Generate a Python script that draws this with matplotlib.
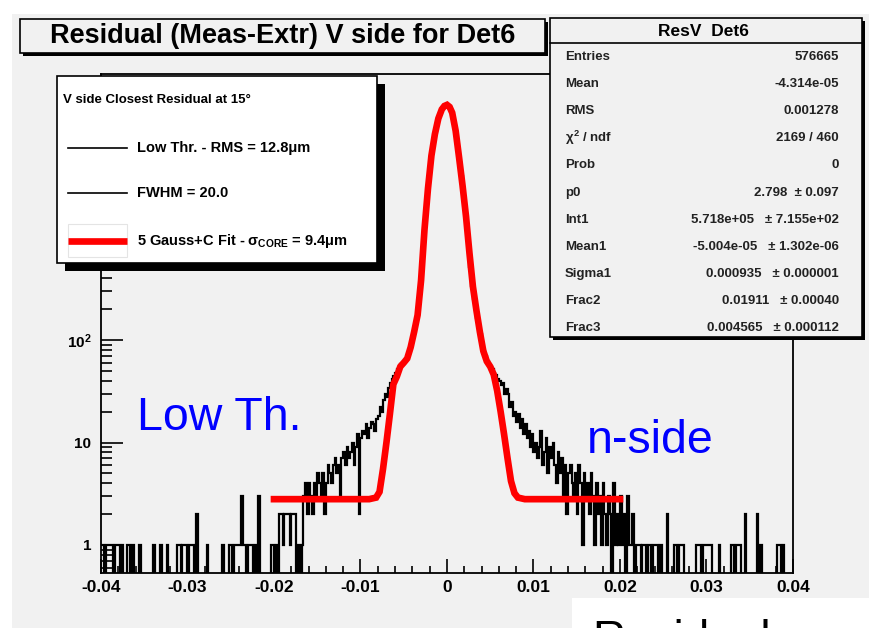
import matplotlib
matplotlib.use("Agg")
import matplotlib.pyplot as plt
from matplotlib.patches import Rectangle
from matplotlib.lines import Line2D
import numpy as np

plt.rcParams['font.family'] = ['Liberation Sans', 'DejaVu Sans']
plt.rcParams['mathtext.fontset'] = 'custom'
plt.rcParams['mathtext.rm'] = 'Liberation Sans:bold'
plt.rcParams['mathtext.bf'] = 'Liberation Sans:bold'
plt.rcParams['mathtext.it'] = 'Liberation Sans:bold'

# residual histogram, 400 bins from -0.04 to 0.04
x_min, x_max, n_bins = -0.04, 0.04, 400
counts = [
    1, 1, 0, 1, 1, 1, 1, 0, 1, 1, 1, 0, 1, 0, 0, 1, 1, 0, 1, 0,
    0, 0, 1, 0, 0, 0, 0, 0, 0, 0, 1, 0, 0, 0, 1, 0, 0, 0, 1, 0,
    0, 0, 0, 0, 1, 1, 0, 1, 1, 1, 0, 1, 1, 1, 0, 2, 0, 0, 0, 0,
    0, 1, 0, 0, 0, 0, 0, 0, 0, 0, 1, 0, 0, 0, 1, 1, 0, 1, 1, 1,
    1, 3, 1, 1, 0, 1, 1, 1, 0, 1, 0, 3, 0, 0, 0, 0, 0, 0, 1, 1,
    0, 1, 0, 2, 2, 1, 2, 2, 2, 1, 2, 2, 2, 0, 1, 0, 1, 3, 4, 2,
    4, 3, 2, 4, 3, 5, 4, 3, 5, 2, 4, 6, 5, 4, 6, 7, 5, 6, 3, 7,
    8, 6, 9, 7, 8, 10, 6, 9, 12, 2, 11, 13, 12, 15, 11, 14, 16, 15, 13, 17,
    18, 22, 20, 26, 30, 28, 34, 38, 42, 45, 48, 52, 55, 58, 60, 63, 66, 72, 80, 88,
    110, 130, 160, 220, 320, 520, 900, 1500, 2500, 3600,
    5000, 6600, 9000, 11000, 13500, 15500, 17000, 18300, 19200, 19600,
    19500, 18800, 17300, 15000, 12200, 9800, 7500, 5500, 4000, 2800,
    1900, 1250, 850, 520, 340, 250, 200, 165, 135, 115,
    90, 78, 70, 62, 58, 55, 52, 48, 46, 42, 40, 36, 38, 30, 33, 30, 22, 25, 18, 20,
    16, 19, 14, 17, 12, 15, 11, 13, 9, 12, 8, 10, 7, 9, 13, 6, 8, 11, 5, 9,
    7, 10, 6, 4, 8, 5, 7, 3, 6, 2, 5, 6, 4, 3, 5, 2, 6, 4, 1, 5,
    3, 4, 2, 5, 3, 1, 4, 2, 3, 1, 4, 2, 1, 3, 2, 0, 4, 1, 2, 1,
    3, 1, 2, 0, 3, 1, 1, 2, 0, 1, 1, 1, 0, 1, 1, 0, 1, 1, 0, 1,
    1, 1, 0, 1, 0, 0, 0, 2, 0, 0, 0, 1, 1, 0, 1, 1, 1, 0, 0, 0,
    0, 0, 0, 0, 1, 1, 1, 0, 1, 1, 1, 1, 1, 0, 0, 0, 0, 1, 0, 0,
    0, 0, 0, 0, 1, 1, 0, 1, 1, 1, 0, 0, 2, 0, 0, 0, 0, 0, 0, 2,
    0, 1, 0, 0, 0, 0, 0, 0, 0, 0, 0, 1, 1, 0, 1, 0, 0, 0, 0, 0,
]

# 5 Gauss + C fit
fit_x = [-0.0200, -0.0090, -0.0082, -0.0078, -0.0074, -0.0070, -0.0066, -0.0062,
         -0.0058, -0.0054, -0.0050, -0.0046, -0.0042, -0.0038, -0.0034, -0.0030,
         -0.0026, -0.0022, -0.0018, -0.0014, -0.0010, -0.0006, -0.0003, 0.0000,
         0.0003, 0.0006, 0.0010, 0.0014, 0.0018, 0.0022, 0.0026, 0.0030,
         0.0034, 0.0038, 0.0042, 0.0046, 0.0050, 0.0054, 0.0058, 0.0062,
         0.0066, 0.0070, 0.0074, 0.0078, 0.0082, 0.0090, 0.0200]
fit_y = [2.8, 2.8, 2.9, 3.3, 5.5, 10, 19, 37,
         44, 55, 60, 66, 85, 120, 175, 380,
         1200, 3000, 6300, 10200, 14500, 17800, 19200, 19700,
         18800, 16500, 11000, 6000, 3200, 1600, 700, 330,
         195, 120, 78, 62, 55, 46, 32, 20,
         12, 7, 4.2, 3.2, 2.9, 2.8, 2.8]

x_ticks = [-0.04, -0.03, -0.02, -0.01, 0.0, 0.01, 0.02, 0.03, 0.04]
x_labels = ['-0.04', '-0.03', '-0.02', '-0.01', '0', '0.01', '0.02', '0.03', '0.04']
y_ticks = [1, 10, 100, 1000, 10000]
y_labels = ['1', '10', r'$10^{2}$', r'$10^{3}$', r'$10^{4}$']

title = 'Residual (Meas-Extr) V side for Det6'
stats_title = 'ResV  Det6'
stat_names = ['Entries', 'Mean', 'RMS', r'$\chi^{2}$ / ndf', 'Prob', 'p0', 'Int1',
              'Mean1', 'Sigma1', 'Frac2', 'Frac3']
stat_values = ['576665', '-4.314e-05', '0.001278', '2169 / 460', '0',
               '2.798  \u00b1 0.097', '5.718e+05   \u00b1 7.155e+02',
               '-5.004e-05   \u00b1 1.302e-06', '0.000935   \u00b1 0.000001',
               '0.01911   \u00b1 0.00040', '0.004565   \u00b1 0.000112']
legend_header = 'V side Closest Residual at 15\u00b0'
legend_labels = ['Low Thr. - RMS = 12.8\u03bcm', 'FWHM = 20.0',
                 r'5 Gauss+C Fit - $\sigma_{\rm CORE}$ = 9.4$\mu$m']

W, H = 869, 628
GRAY = '#f1f1f1'


def fx(px):
    return px / W


def fy(py):
    return 1 - py / H


fig = plt.figure(figsize=(W / 100, H / 100), dpi=100)
fig.patch.set_facecolor('white')


def rect(x0, y0, x1, y1, fc, ec='black', lw=1.2, z=5):
    r = Rectangle((fx(x0), fy(y1)), (x1 - x0) / W, (y1 - y0) / H,
                  transform=fig.transFigure, fc=fc, ec=ec, lw=lw, zorder=z)
    fig.add_artist(r)


def box(x0, y0, x1, y1, fc, shadow, z=5):
    rect(x0 + shadow, y0 + shadow, x1 + shadow, y1 + shadow, 'black', lw=0, z=z)
    rect(x0, y0, x1, y1, fc, z=z + 0.1)


# pad background
rect(12, 14, W + 5, H + 5, GRAY, ec='none', lw=0, z=-5)

ax = fig.add_axes([fx(101), fy(573), (793 - 101) / W, (573 - 74) / H])
ax.set_facecolor(GRAY)
ax.set_yscale('log')

edges = np.linspace(x_min, x_max, n_bins + 1)
vals = np.array(counts, dtype=float)
vals[vals <= 0] = 0.01
ax.stairs(vals, edges, baseline=None, color='black', lw=1.6, zorder=2)
ax.plot(fit_x, fit_y, color='red', lw=4.8, zorder=3, solid_joinstyle='miter')

ax.set_xlim(x_min, x_max)
ax.set_ylim(0.533, 39400)
ax.set_xticks(x_ticks)
ax.set_xticklabels(x_labels, fontsize=12.5, fontweight='bold')
ax.set_xticks(np.arange(-0.04, 0.0401, 0.002), minor=True)
ax.set_yticks(y_ticks)
ax.set_yticklabels(y_labels, fontsize=11, fontweight='bold')
ax.yaxis.set_minor_formatter(plt.NullFormatter())
ax.tick_params(axis='x', which='major', direction='in', length=10, width=1.2, pad=5)
ax.tick_params(axis='x', which='minor', direction='in', length=5, width=1.2)
ax.tick_params(axis='y', which='major', direction='in', length=16, width=1.2, pad=7)
ax.tick_params(axis='y', which='minor', direction='in', length=8, width=1.2)
for s in ax.spines.values():
    s.set_linewidth(1.3)

# blue annotations
fig.text(fx(137), fy(430), 'Low Th.', color='#0000ff', fontsize=33.5,
         ha='left', va='baseline', zorder=6)
fig.text(fx(587), fy(453), 'n-side', color='#0000ff', fontsize=33.5,
         ha='left', va='baseline', zorder=6)

# title box
box(20, 19, 545, 53, GRAY, 3)
fig.text(fx(283), fy(36), title, fontsize=19.5, fontweight='bold',
         ha='center', va='center', zorder=7)

# stats box
box(550, 18, 862, 337, GRAY, 3)
fig.add_artist(Line2D([fx(550), fx(862)], [fy(43), fy(43)], color='black', lw=1.2,
                      transform=fig.transFigure, zorder=7))
fig.text(fx(703), fy(31), stats_title, fontsize=12.5, fontweight='bold',
         ha='center', va='center', zorder=7)
for i, (name, val) in enumerate(zip(stat_names, stat_values)):
    yy = 57 + 27.1 * i
    fig.text(fx(565), fy(yy), name, fontsize=9.5, fontweight='bold',
             ha='left', va='center', zorder=7, color='#222222')
    fig.text(fx(839), fy(yy), val, fontsize=9.5, fontweight='bold',
             ha='right', va='center', zorder=7, color='#222222')

# legend box
box(57, 76, 377, 263, 'white', 8)
fig.text(fx(63), fy(100), legend_header, fontsize=9.5, fontweight='bold',
         ha='left', va='center', zorder=7)
leg_y = [148, 193, 241]
for i, lab in enumerate(legend_labels):
    if i < 2:
        fig.add_artist(Line2D([fx(68), fx(127)], [fy(leg_y[i]), fy(leg_y[i])],
                              color='black', lw=1.2, transform=fig.transFigure, zorder=7))
    else:
        rect(68, 224, 127, 257, 'none', ec='#e4e4e4', lw=0.8, z=7)
        fig.add_artist(Line2D([fx(68), fx(127)], [fy(leg_y[i]), fy(leg_y[i])],
                              color='red', lw=4.8, solid_capstyle='butt',
                              transform=fig.transFigure, zorder=7.2))
    fig.text(fx(137), fy(leg_y[i]), lab, fontsize=10.5, fontweight='bold',
             ha='left', va='center', zorder=7)

# slide text cut at the bottom edge, as in the reference
rect(572, 598, W + 5, H + 5, 'white', ec='none', lw=0, z=8)
fig.text(fx(592), fy(619), 'Residuals', fontsize=33, ha='left', va='top', zorder=9)

fig.savefig('out.png', dpi=100)
